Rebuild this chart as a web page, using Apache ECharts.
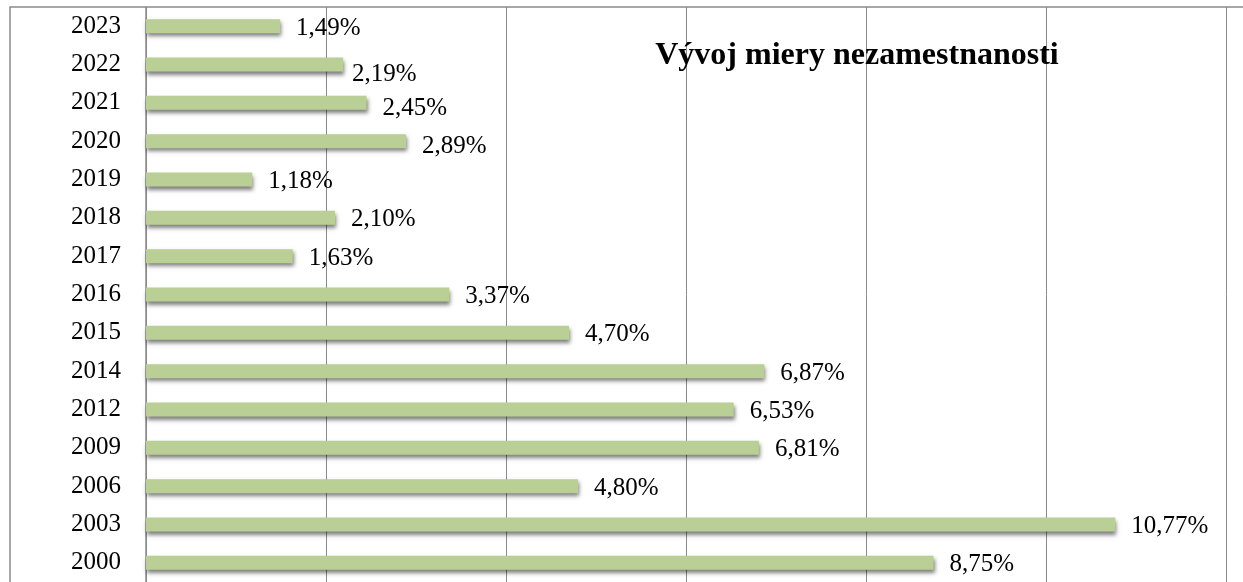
<!DOCTYPE html>
<html>
<head>
<meta charset="utf-8">
<script src="https://cdn.jsdelivr.net/npm/echarts@6/dist/echarts.min.js"></script>
<style>
  html, body { margin: 0; padding: 0; background: #fff; }
  #chart { width: 1243px; height: 582px; }
</style>
</head>
<body>
<div id="chart"></div>
<script>
// roky zdola nahor, ako v grafe
const years = ['2000', '2003', '2006', '2009', '2012', '2014', '2015', '2016', '2017', '2018', '2019', '2020', '2021', '2022', '2023'];
const rates = [8.75, 10.77, 4.80, 6.81, 6.53, 6.87, 4.70, 3.37, 1.63, 2.10, 1.18, 2.89, 2.45, 2.19, 1.49];
const xTicks = [0, 2, 4, 6, 8, 10, 12];

const chart = echarts.init(document.getElementById('chart'));

const data = rates.map((v, i) => {
  const item = { value: v };
  if (years[i] === '2022') item.label = { offset: [-7, 10] };
  else if (years[i] === '2021') item.label = { offset: [0, 6] };
  else if (years[i] === '2020') item.label = { offset: [0, 5] };
  else item.label = { offset: [0, 2] };
  return item;
});

const option = {
  backgroundColor: '#fff',
  animation: false,
  title: {
    text: 'Vývoj miery nezamestnanosti',
    left: 852,
    top: 35,
    textAlign: 'center',
    textStyle: {
      fontFamily: 'Liberation Serif',
      fontSize: 32,
      fontWeight: 'bold',
      color: '#000'
    }
  },
  grid: {
    left: 146,
    right: 17,
    top: 7,
    height: 578
  },
  xAxis: {
    type: 'value',
    min: xTicks[0],
    max: xTicks[xTicks.length - 1],
    interval: 2,
    axisLabel: { show: false },
    axisTick: { show: false },
    axisLine: { show: false },
    splitLine: { lineStyle: { color: '#8a8a8a', width: 1 } }
  },
  yAxis: {
    type: 'category',
    data: years,
    axisLine: { lineStyle: { color: '#8a8a8a', width: 1.5 } },
    axisTick: { length: 8, lineStyle: { color: '#8a8a8a', width: 1.5 } },
    axisLabel: {
      margin: 25,
      fontFamily: 'Liberation Serif',
      fontSize: 25,
      color: '#000'
    }
  },
  graphic: [
    {
      type: 'polyline',
      shape: { points: [[10, 600], [10, 7], [1250, 7]] },
      style: { stroke: '#8a8a8a', lineWidth: 1.5, fill: null }
    }
  ],
  series: [
    {
      type: 'bar',
      data: data,
      barWidth: 14,
      itemStyle: {
        color: '#b9cf96',
        shadowColor: 'rgba(0,0,0,0.5)',
        shadowBlur: 4,
        shadowOffsetX: 1,
        shadowOffsetY: 3
      },
      label: {
        show: true,
        position: 'right',
        distance: 16,
        fontFamily: 'Liberation Serif',
        fontSize: 25,
        color: '#000',
        formatter: p => p.value.toFixed(2).replace('.', ',') + '%'
      }
    }
  ]
};

chart.setOption(option);
</script>
</body>
</html>
